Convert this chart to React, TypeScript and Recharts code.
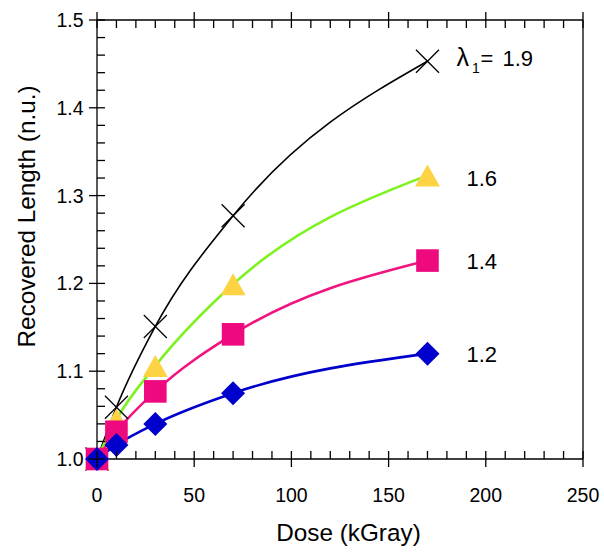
import React from 'react';
import { LineChart, Line, XAxis, YAxis, Label } from 'recharts';

const doses = [0, 10, 30, 70, 170];
const lambda19 = [1.0, 1.059, 1.151, 1.277, 1.453];
const lambda16 = [1.0, 1.045, 1.106, 1.199, 1.323];
const lambda14 = [1.0, 1.031, 1.077, 1.142, 1.226];
const lambda12 = [1.0, 1.016, 1.04, 1.075, 1.12];
const seriesLabels = ['1.9', '1.6', '1.4', '1.2'];
const xMajorTicks = [0, 50, 100, 150, 200, 250];
const yMajorTicks = [1.0, 1.1, 1.2, 1.3, 1.4, 1.5];
const xTitle = 'Dose (kGray)';
const yTitle = 'Recovered Length (n.u.)';

const X_MINOR = 10;
const Y_MINOR = 0.02;
const xTicks: number[] = [];
for (let v = xMajorTicks[0]; v <= xMajorTicks[xMajorTicks.length - 1] + 1e-9; v += X_MINOR) xTicks.push(Math.round(v));
const yTicks: number[] = [];
for (let i = 0; ; i++) {
  const v = +(yMajorTicks[0] + i * Y_MINOR).toFixed(2);
  if (v > yMajorTicks[yMajorTicks.length - 1] + 1e-9) break;
  yTicks.push(v);
}

const data = doses.map((d, i) => ({
  dose: d,
  l19: lambda19[i],
  l16: lambda16[i],
  l14: lambda14[i],
  l12: lambda12[i],
}));

const FONT = '"Liberation Sans", Arial, Helvetica, sans-serif';
const AX = '#000';
const AXW = 1.3;
const TICK_IN = 8;
const TICK_OUT = 8;
const TICK_FS = 19.5;
const TITLE_FS = 24.3;
const LABEL_FS = 22;

const isMajorY = (v: number) => Math.abs(v * 10 - Math.round(v * 10)) < 1e-6;

const BottomTick = (p: any) => {
  const { x, y, payload } = p;
  const v = payload.value;
  const major = xMajorTicks.includes(v);
  return (
    <g>
      <line x1={x} x2={x} y1={y - TICK_IN} y2={major ? y + TICK_OUT : y} stroke={AX} strokeWidth={AXW} />
      {major && (
        <text x={x} y={y + 42.5} textAnchor="middle" fontSize={TICK_FS} fontFamily={FONT} fill="#000">
          {v}
        </text>
      )}
    </g>
  );
};

const TopTick = (p: any) => {
  const { x, y, payload } = p;
  const major = xMajorTicks.includes(payload.value);
  return <line x1={x} x2={x} y1={major ? y - TICK_OUT : y} y2={y + TICK_IN} stroke={AX} strokeWidth={AXW} />;
};

const LeftTick = (p: any) => {
  const { x, y, payload } = p;
  const v = payload.value;
  const major = isMajorY(v);
  return (
    <g>
      <line x1={major ? x - TICK_OUT : x} x2={x + TICK_IN} y1={y} y2={y} stroke={AX} strokeWidth={AXW} />
      {major && (
        <text x={x - 13.5} y={y + 7} textAnchor="end" fontSize={TICK_FS} fontFamily={FONT} fill="#000">
          {v.toFixed(1)}
        </text>
      )}
    </g>
  );
};

const RightTick = (p: any) => {
  const { x, y, payload } = p;
  const major = isMajorY(payload.value);
  return <line x1={x - TICK_IN} x2={major ? x + TICK_OUT : x} y1={y} y2={y} stroke={AX} strokeWidth={AXW} />;
};

const lastIndex = doses.length - 1;
const labelDy = [5, 11, 8.3, 8.4];

const EndLabel = ({ cx, cy, si }: any) => {
  const y = cy + labelDy[si];
  if (si === 0) {
    return (
      <text y={y} fontSize={LABEL_FS} fontFamily={FONT} fill="#000">
        <tspan x={cx + 29} fontSize={25}>λ</tspan>
        <tspan x={cx + 44.5} dy={7} fontSize={14}>1</tspan>
        <tspan x={cx + 53} dy={-7}>=</tspan>
        <tspan x={cx + 75}>{seriesLabels[si]}</tspan>
      </text>
    );
  }
  return (
    <text x={cx + 39} y={y} fontSize={LABEL_FS} fontFamily={FONT} fill="#000">
      {seriesLabels[si]}
    </text>
  );
};

const XDot = (p: any) => {
  const { cx, cy, index } = p;
  const h = 11.5;
  return (
    <g key={`x-${index}`}>
      <line x1={cx - h} y1={cy - h} x2={cx + h} y2={cy + h} stroke="#000" strokeWidth={1.3} />
      <line x1={cx - h} y1={cy + h} x2={cx + h} y2={cy - h} stroke="#000" strokeWidth={1.3} />
      {index === lastIndex && <EndLabel cx={cx} cy={cy} si={0} />}
    </g>
  );
};

const TriDot = (p: any) => {
  const { cx, cy, index } = p;
  const w = 12.5;
  const ht = 22;
  return (
    <g key={`t-${index}`}>
      <polygon
        points={`${cx},${cy - ht / 2} ${cx + w},${cy + ht / 2} ${cx - w},${cy + ht / 2}`}
        fill="#FDD343"
      />
      {index === lastIndex && <EndLabel cx={cx} cy={cy} si={1} />}
    </g>
  );
};

const SqDot = (p: any) => {
  const { cx, cy, index } = p;
  const s = 11.3;
  return (
    <g key={`s-${index}`}>
      <rect x={cx - s} y={cy - s} width={2 * s} height={2 * s} fill="#EE0A7E" />
      {index === lastIndex && <EndLabel cx={cx} cy={cy} si={2} />}
    </g>
  );
};

const DiaDot = (p: any) => {
  const { cx, cy, index } = p;
  const h = 12;
  return (
    <g key={`d-${index}`}>
      <polygon points={`${cx},${cy - h} ${cx + h},${cy} ${cx},${cy + h} ${cx - h},${cy}`} fill="#0000CC" />
      {index === lastIndex && <EndLabel cx={cx} cy={cy} si={3} />}
    </g>
  );
};

const YTitle = (p: any) => {
  const vb = p.viewBox || {};
  const cy = (vb.y ?? 20) + (vb.height ?? 439) / 2 - 23;
  const x = 35;
  return (
    <text
      x={x}
      y={cy}
      transform={`rotate(-90, ${x}, ${cy})`}
      textAnchor="middle"
      fontSize={TITLE_FS}
      fontFamily={FONT}
      fill="#000"
    >
      {yTitle}
    </text>
  );
};

const XTitle = (p: any) => {
  const vb = p.viewBox || {};
  const cx = (vb.x ?? 97) + (vb.width ?? 486) / 2 + 8.5;
  const y = (vb.y ?? 459) + 82;
  return (
    <text x={cx} y={y} textAnchor="middle" fontSize={TITLE_FS} fontFamily={FONT} fill="#000">
      {xTitle}
    </text>
  );
};

export default function App() {
  return (
    <div style={{ position: 'absolute', left: 0, top: 0, width: 604, height: 553, background: '#fff' }}>
      <LineChart width={604} height={553} data={data} margin={{ top: 0, right: 0, bottom: 0, left: 0 }}>
        <XAxis
          xAxisId="bottom"
          dataKey="dose"
          type="number"
          domain={[0, 250]}
          ticks={xTicks}
          interval={0}
          height={94}
          tickSize={0}
          tickMargin={0}
          tickLine={false}
          tick={<BottomTick />}
          axisLine={{ stroke: AX, strokeWidth: AXW }}
        >
          <Label content={<XTitle />} />
        </XAxis>
        <XAxis
          xAxisId="top"
          orientation="top"
          dataKey="dose"
          type="number"
          domain={[0, 250]}
          ticks={xTicks}
          interval={0}
          height={20}
          tickSize={0}
          tickMargin={0}
          tickLine={false}
          tick={<TopTick />}
          axisLine={{ stroke: AX, strokeWidth: AXW }}
        />
        <YAxis
          yAxisId="left"
          type="number"
          domain={[1.0, 1.5]}
          ticks={yTicks}
          interval={0}
          width={97}
          tickSize={0}
          tickMargin={0}
          tickLine={false}
          tick={<LeftTick />}
          axisLine={{ stroke: AX, strokeWidth: AXW }}
        >
          <Label content={<YTitle />} />
        </YAxis>
        <YAxis
          yAxisId="right"
          orientation="right"
          type="number"
          domain={[1.0, 1.5]}
          ticks={yTicks}
          interval={0}
          width={21}
          tickSize={0}
          tickMargin={0}
          tickLine={false}
          tick={<RightTick />}
          axisLine={{ stroke: AX, strokeWidth: AXW }}
        />
        <Line xAxisId="bottom" yAxisId="left" dataKey="l19" type="monotone" stroke="#000" strokeWidth={1.6} dot={XDot} activeDot={false} isAnimationActive={false} />
        <Line xAxisId="bottom" yAxisId="left" dataKey="l16" type="monotone" stroke="#7DF21E" strokeWidth={2.6} dot={TriDot} activeDot={false} isAnimationActive={false} />
        <Line xAxisId="bottom" yAxisId="left" dataKey="l14" type="monotone" stroke="#F0147F" strokeWidth={2.6} dot={SqDot} activeDot={false} isAnimationActive={false} />
        <Line xAxisId="bottom" yAxisId="left" dataKey="l12" type="monotone" stroke="#0000CC" strokeWidth={2.6} dot={DiaDot} activeDot={false} isAnimationActive={false} />
      </LineChart>
    </div>
  );
}
